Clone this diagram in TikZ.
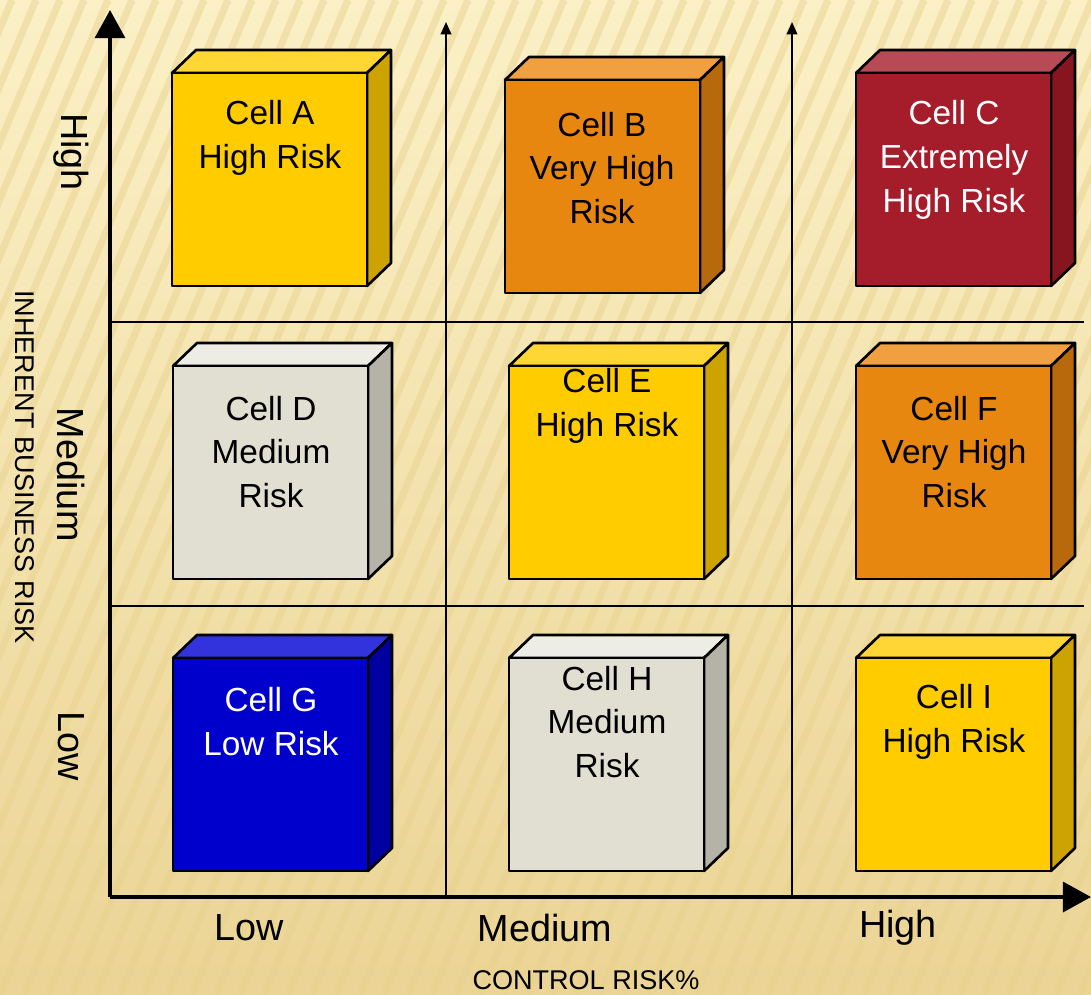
\documentclass[tikz,border=0pt]{standalone}
\usepackage{fontspec}
\setmainfont{Liberation Sans}
\usetikzlibrary{arrows.meta}

\definecolor{bgtop}{HTML}{FBF0C6}
\definecolor{bgbottom}{HTML}{EBD495}
\definecolor{stripe}{HTML}{E9D38F}
\definecolor{yellowfront}{HTML}{FFCC00}
\definecolor{yellowtop}{HTML}{FFD633}
\definecolor{yellowside}{HTML}{CCA300}
\definecolor{orangefront}{HTML}{E8870F}
\definecolor{orangetop}{HTML}{F0A040}
\definecolor{orangeside}{HTML}{B8690C}
\definecolor{redfront}{HTML}{A51C2A}
\definecolor{redtop}{HTML}{B84A55}
\definecolor{redside}{HTML}{86151F}
\definecolor{greyfront}{HTML}{E0DFD2}
\definecolor{greytop}{HTML}{EDEDE6}
\definecolor{greyside}{HTML}{B5B3A8}
\definecolor{bluefront}{HTML}{0000CC}
\definecolor{bluetop}{HTML}{3333DD}
\definecolor{blueside}{HTML}{0000A0}

% one 3-d cell: name, top left corner of the front face, colour set
\newcommand{\riskcell}[3]{%
  \coordinate (#1) at (#2);
  \filldraw[face, fill=#3top] (#1) -- ++(24,-23) -- ++(195,0) -- ++(-24,23) -- cycle;
  \filldraw[face, fill=#3side] (#1) ++(195,0) -- ++(24,-23) -- ++(0,213) -- ++(-24,23) -- cycle;
  \filldraw[face, fill=#3front] (#1) rectangle ++(195,213);
}

\begin{document}
\begin{tikzpicture}[
  x=0.02cm, y=-0.02cm,
  face/.style={draw=black, line width=1.5pt, line join=round},
  axis/.style={draw=black, line width=2.2pt, -{Triangle[length=16pt, width=17pt]}},
  gridline/.style={draw=black, line width=1.1pt},
  gridarrow/.style={gridline, -{Triangle[length=7pt, width=6pt]}},
  celltext/.style={align=center, font=\fontsize{19}{25}\selectfont, inner sep=0pt},
  ticklabel/.style={font=\fontsize{21.5}{24}\selectfont, inner sep=0pt},
  axistitle/.style={font=\fontsize{15.4}{18}\selectfont, inner sep=0pt}
  ]
  % background
  \useasboundingbox (0,0) rectangle (1091,994);
  \shade[top color=bgtop, bottom color=bgbottom] (0,0) rectangle (1091,994);
  \begin{scope}
    \clip (0,0) rectangle (1091,994);
    \foreach \s in {-480,-456,...,1100}
      \draw[stripe, line width=4pt, opacity=0.5] (\s,994) -- ++(420,-994);
  \end{scope}

  % axes and grid
  \coordinate (origin) at (110,897);
  \coordinate (ytop) at (110,10);
  \coordinate (xend) at (1091,897);
  \coordinate (g1bot) at (446,897);
  \coordinate (g1top) at (446,22);
  \coordinate (g2bot) at (792,897);
  \coordinate (g2top) at (792,22);
  \coordinate (h1l) at (110,322);
  \coordinate (h1r) at (1084,322);
  \coordinate (h2l) at (110,606);
  \coordinate (h2r) at (1084,606);

  \draw[gridarrow] (g1bot) -- (g1top);
  \draw[gridarrow] (g2bot) -- (g2top);
  \draw[gridline] (h1l) -- (h1r);
  \draw[gridline] (h2l) -- (h2r);
  \draw[axis] (origin) -- (ytop);
  \draw[axis] (origin) -- (xend);

  % cells
  \riskcell{cellA}{172,73}{yellow}
  \riskcell{cellB}{505,80}{orange}
  \riskcell{cellC}{856,73}{red}
  \riskcell{cellD}{173,366}{grey}
  \riskcell{cellE}{509,366}{yellow}
  \riskcell{cellF}{856,366}{orange}
  \riskcell{cellG}{173,658}{blue}
  \riskcell{cellH}{509,658}{grey}
  \riskcell{cellI}{856,658}{yellow}

  \node[celltext] (txtA) at (270,138) {Cell A\\High Risk};
  \node[celltext] (txtB) at (602,168) {Cell B\\Very High\\Risk};
  \node[celltext, text=white] (txtC) at (954,160) {Cell C\\Extremely\\High Risk};
  \node[celltext] (txtD) at (271,452) {Cell D\\Medium\\Risk};
  \node[celltext] (txtE) at (607,406) {Cell E\\High Risk};
  \node[celltext] (txtF) at (954,452) {Cell F\\Very High\\Risk};
  \node[celltext, text=white] (txtG) at (271,722) {Cell G\\Low Risk};
  \node[celltext] (txtH) at (607,722) {Cell H\\Medium\\Risk};
  \node[celltext] (txtI) at (954,722) {Cell I\\High Risk};

  % labels
  \node[ticklabel, rotate=-90] (yhigh) at (71,152) {High};
  \node[ticklabel, rotate=-90] (ymed) at (71,475) {Medium};
  \node[ticklabel, rotate=-90] (ylow) at (71,746) {Low};
  \node[axistitle, rotate=-90] (ytitle) at (25,467) {INHERENT BUSINESS RISK};
  \node[ticklabel] (xlow) at (249,928) {Low};
  \node[ticklabel] (xmed) at (545,928) {Medium};
  \node[ticklabel] (xhigh) at (898,928) {High};
  \node[axistitle] (xtitle) at (586,980) {CONTROL RISK\%};
\end{tikzpicture}
\end{document}
